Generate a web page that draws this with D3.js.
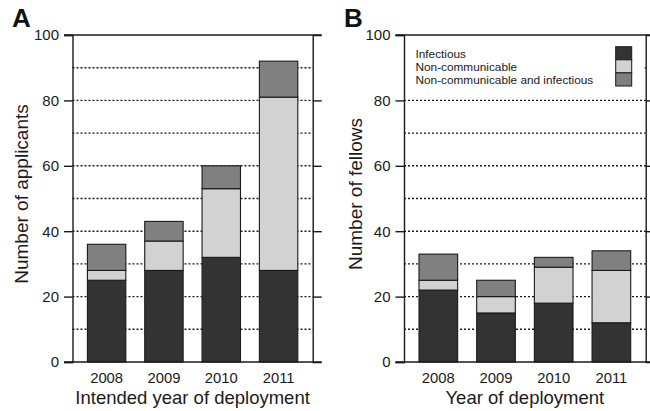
<!DOCTYPE html>
<html>
<head>
<meta charset="utf-8">
<script src="https://cdn.jsdelivr.net/npm/d3@7/dist/d3.min.js"></script>
<style>
  html, body { margin: 0; padding: 0; background: #fff; }
  svg { display: block; font-family: "Liberation Sans", Arial, Helvetica, sans-serif; }
</style>
</head>
<body>
<svg id="chart" width="650" height="411"></svg>
<script>
// ---- data ----
const years = ["2008", "2009", "2010", "2011"];
const seriesNames = ["Infectious", "Non-communicable", "Non-communicable and infectious"];
const seriesColors = ["#333333", "#d2d2d2", "#808080"];
const applicantsInfectious = [25, 28, 32, 28];
const applicantsNonComm    = [3, 9, 21, 53];
const applicantsBoth       = [8, 6, 7, 11];
const fellowsInfectious    = [22, 15, 18, 12];
const fellowsNonComm       = [3, 5, 11, 16];
const fellowsBoth          = [8, 5, 3, 6];
const majorTicks = [0, 20, 40, 60, 80, 100];
const gridTicks = [10, 20, 30, 40, 50, 60, 70, 80, 90];

const svg = d3.select("#chart");

function panel(opts) {
  const { x0, x1, yTop, yBot, letter, letterX, yTitle, yTitleX, xTitle, inf, nc, both, legend } = opts;
  const g = svg.append("g");
  const x = d3.scaleBand().domain(years).range([x0, x1]).paddingInner(0.33).paddingOuter(0.26);
  const y = d3.scaleLinear().domain([0, 100]).range([yBot, yTop]);

  const rows = years.map((yr, i) => ({ year: yr, "0": inf[i], "1": nc[i], "2": both[i] }));
  const stacked = d3.stack().keys(["0", "1", "2"])(rows);

  // dotted gridlines
  g.append("g").selectAll("line").data(gridTicks).join("line")
    .attr("x1", x0).attr("x2", x1)
    .attr("y1", d => y(d)).attr("y2", d => y(d))
    .attr("stroke", "#1a1a1a").attr("stroke-width", 1.4)
    .attr("stroke-dasharray", "2,2");

  // legend background (covers gridline)
  if (legend) {
    g.append("rect").attr("x", x0 + 1).attr("y", 40).attr("width", x1 - x0 - 2).attr("height", 52)
      .attr("fill", "#fff");
  }

  // bars
  g.append("g").selectAll("g").data(stacked).join("g")
    .attr("fill", (d, i) => seriesColors[i])
    .selectAll("rect").data(d => d).join("rect")
    .attr("x", d => x(d.data.year))
    .attr("width", x.bandwidth())
    .attr("y", d => y(d[1]))
    .attr("height", d => y(d[0]) - y(d[1]))
    .attr("stroke", "#1a1a1a").attr("stroke-width", 1.1);

  // left axis
  const la = g.append("g").attr("transform", `translate(${x0},0)`)
    .call(d3.axisLeft(y).tickValues(majorTicks).tickSize(8.5).tickPadding(5));
  la.select(".domain").attr("stroke", "#1a1a1a").attr("stroke-width", 1.4);
  la.selectAll(".tick line").attr("stroke", "#1a1a1a").attr("stroke-width", 1.4);
  la.selectAll(".tick text").attr("font-size", "15px").attr("fill", "#1a1a1a")
    .attr("font-family", "Liberation Sans, Arial, sans-serif");

  // right axis
  const ra = g.append("g").attr("transform", `translate(${x1},0)`)
    .call(d3.axisRight(y).tickValues([20, 40, 60, 80]).tickSize(9).tickFormat(""));
  ra.select(".domain").attr("stroke", "#1a1a1a").attr("stroke-width", 1.4);
  ra.selectAll(".tick line").attr("stroke", "#1a1a1a").attr("stroke-width", 1.4);

  // full-width lines at 0 and 100
  g.append("g").selectAll("line").data([0, 100]).join("line")
    .attr("x1", x0 - 8.5).attr("x2", x1 + 9)
    .attr("y1", d => y(d)).attr("y2", d => y(d))
    .attr("stroke", "#1a1a1a").attr("stroke-width", 1.4);

  // bottom axis labels
  const ba = g.append("g").attr("transform", `translate(0,${yBot})`)
    .call(d3.axisBottom(x).tickSize(0).tickPadding(10));
  ba.select(".domain").remove();
  ba.selectAll(".tick text").attr("font-size", "14.8px").attr("fill", "#1a1a1a")
    .attr("font-family", "Liberation Sans, Arial, sans-serif");

  // titles
  g.append("text").attr("x", (x0 + x1) / 2).attr("y", 404).attr("text-anchor", "middle")
    .attr("font-size", "18.5px").attr("fill", "#1a1a1a").text(xTitle);
  g.append("text").attr("transform", `translate(${yTitleX},194) rotate(-90)`).attr("text-anchor", "middle")
    .attr("font-size", "19px").attr("fill", "#1a1a1a").text(yTitle);
  g.append("text").attr("x", letterX).attr("y", 27).attr("font-size", "26px").attr("font-weight", "bold")
    .attr("fill", "#111").text(letter);

  if (legend) {
    const lg = g.append("g");
    lg.selectAll("text").data(seriesNames).join("text")
      .attr("x", 415.5).attr("y", (d, i) => 57.5 + i * 13)
      .attr("font-size", "11.8px").attr("fill", "#1a1a1a").text(d => d);
    lg.selectAll("rect").data(seriesNames).join("rect")
      .attr("x", 615.7).attr("y", (d, i) => 46.7 + i * 13.1)
      .attr("width", 16).attr("height", 13.1)
      .attr("fill", (d, i) => seriesColors[i])
      .attr("stroke", "#1a1a1a").attr("stroke-width", 1);
  }
}

panel({ x0: 72.5, x1: 312.7, yTop: 35, yBot: 362, letter: "A", letterX: 12, yTitle: "Number of applicants",
  yTitleX: 28, xTitle: "Intended year of deployment",
  inf: applicantsInfectious, nc: applicantsNonComm, both: applicantsBoth, legend: false });
panel({ x0: 404, x1: 645.7, yTop: 35, yBot: 362, letter: "B", letterX: 344, yTitle: "Number of fellows",
  yTitleX: 362, xTitle: "Year of deployment",
  inf: fellowsInfectious, nc: fellowsNonComm, both: fellowsBoth, legend: true });
</script>
</body>
</html>
